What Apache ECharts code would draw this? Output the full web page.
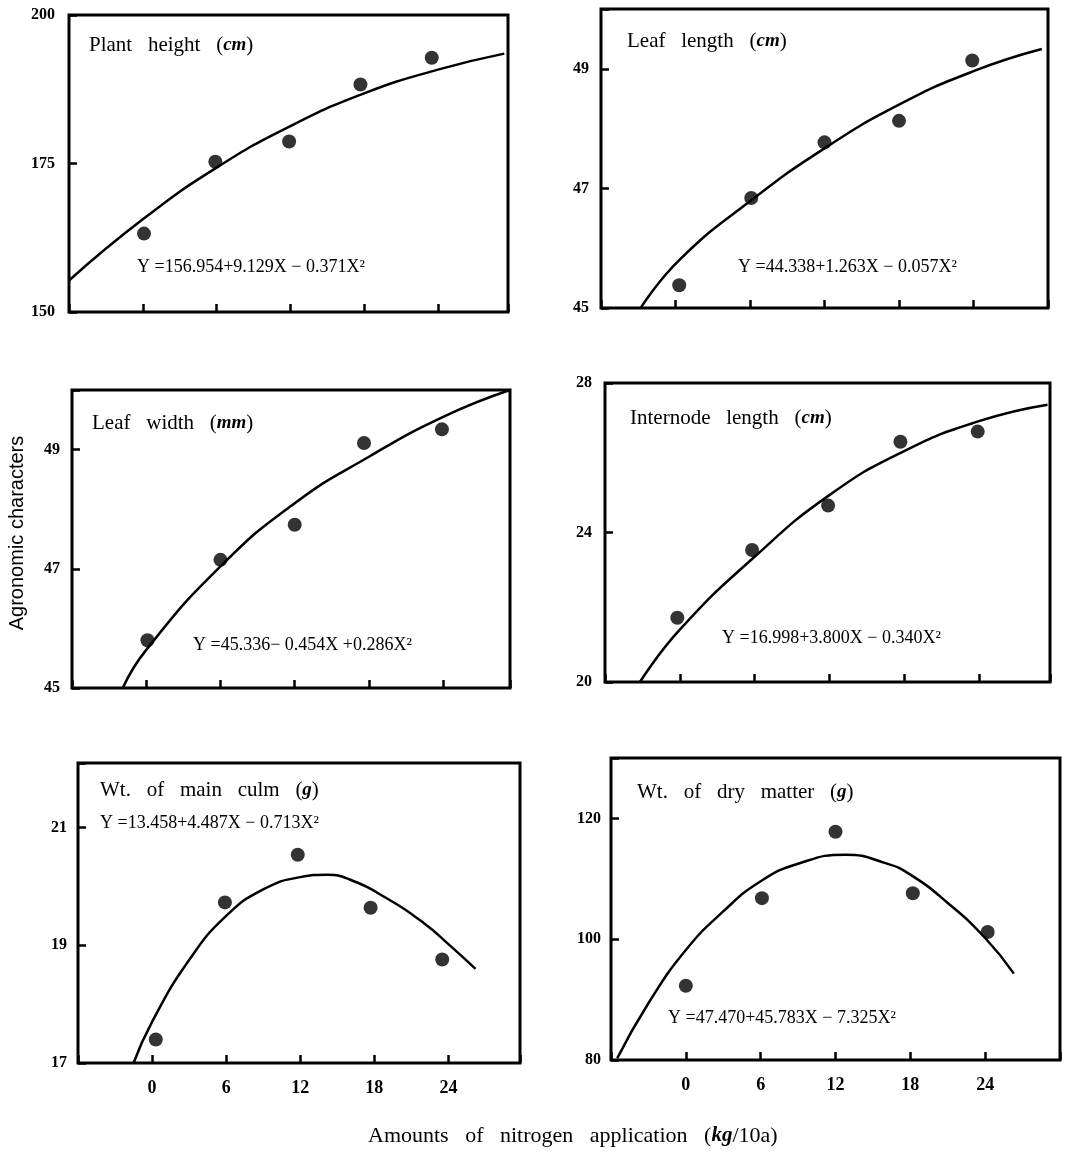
<!DOCTYPE html>
<html>
<head>
<meta charset="utf-8">
<script src="https://cdn.jsdelivr.net/npm/echarts@6/dist/echarts.min.js"></script>
<style>
  html, body { margin: 0; background: #fff; }
  #main { width: 1073px; height: 1157px; }
</style>
</head>
<body>
<div id="main"></div>
<script>
// nitrogen levels shown on the x axis (kg/10a)
var xTicks = [0, 6, 12, 18, 24];

// Plant height (cm)
var heightTicks = [150, 175, 200];
var heightDots = [[0.1, 163.2], [5.9, 175.3], [11.9, 178.7], [17.7, 188.3], [23.5, 192.8]];
var heightFit = [[-6, 155.3], [0, 165.6], [6, 174.3], [12, 181.3], [18, 186.8], [24, 190.8], [29.4, 193.5]];

// Leaf length (cm)
var lengthTicks = [45, 47, 49];
var lengthDots = [[0.3, 45.38], [6.1, 46.84], [12.0, 47.77], [18.0, 48.13], [23.9, 49.14]];
var lengthFit = [[-2.8, 45.0], [0.3, 45.8], [6.1, 46.8], [12.0, 47.67], [18.0, 48.4], [24.0, 48.96], [29.5, 49.33]];

// Leaf width (mm)
var widthTicks = [45, 47, 49];
var widthDots = [[0.1, 45.8], [6.0, 47.15], [12.0, 47.74], [17.6, 49.11], [23.9, 49.34]];
var widthFit = [[-1.9, 45.0], [0, 45.64], [6, 47.04], [12, 48.1], [18, 48.88], [24, 49.55], [29.4, 50.0]];

// Internode length (cm)
var internodeTicks = [20, 24, 28];
var internodeDots = [[-0.2, 21.72], [5.8, 23.53], [11.9, 24.72], [17.7, 26.43], [23.9, 26.7]];
var internodeFit = [[-3.2, 20.0], [0, 21.4], [6, 23.35], [12, 25.0], [18, 26.18], [24, 26.98], [29.5, 27.42]];

// Wt. of main culm (g)
var culmTicks = [17, 19, 21];
var culmDots = [[0.3, 17.4], [5.9, 19.73], [11.8, 20.54], [17.7, 19.64], [23.5, 18.76]];
var culmFit = [[-1.5, 17.0], [0, 17.7], [3, 18.75], [6, 19.5], [9, 19.95], [12, 20.16], [14.2, 20.2], [16, 20.12], [19, 19.8], [22, 19.38], [24, 19.02], [26.2, 18.6]];

// Wt. of dry matter (g)
var dryTicks = [80, 100, 120];
var dryDots = [[0, 92.3], [6.1, 106.8], [12.0, 117.8], [18.2, 107.6], [24.2, 101.2]];
var dryFit = [[-5.5, 80.3], [-3, 89.4], [0, 98.2], [3, 104.6], [6, 109.6], [9, 112.5], [12.8, 114.0], [16, 112.6], [18, 110.7], [21, 106.0], [24, 100.2], [26.3, 94.3]];

var serif = '"Liberation Serif", "DejaVu Serif", serif';

var panels = [
  { box: [69, 15, 439, 297], xMax: 29.7, y: [150, 200, 25], ticks: heightTicks, dots: heightDots, fit: heightFit, xLab: false, margin: 14,
    name: 'Plant   height   (', unit: 'cm', at: [89, 45], eq: 'Y =156.954+9.129X − 0.371X²', eqAt: [137, 267] },
  { box: [601, 9, 447, 299], xMax: 30, y: [45, 50, 2], ticks: lengthTicks, dots: lengthDots, fit: lengthFit, xLab: false, margin: 12,
    name: 'Leaf   length   (', unit: 'cm', at: [627, 41], eq: 'Y =44.338+1.263X − 0.057X²', eqAt: [738, 267] },
  { box: [72, 390, 438, 298], xMax: 29.4, y: [45, 50, 2], ticks: widthTicks, dots: widthDots, fit: widthFit, xLab: false, margin: 12,
    name: 'Leaf   width   (', unit: 'mm', at: [92, 423], eq: 'Y =45.336− 0.454X +0.286X²', eqAt: [193, 645] },
  { box: [605, 383, 445, 299], xMax: 29.7, y: [20, 28, 4], ticks: internodeTicks, dots: internodeDots, fit: internodeFit, xLab: false, margin: 13,
    name: 'Internode   length   (', unit: 'cm', at: [630, 418], eq: 'Y =16.998+3.800X − 0.340X²', eqAt: [722, 638] },
  { box: [78, 763, 442, 300], xMax: 29.8, y: [17, 22.1, 2], ticks: culmTicks, dots: culmDots, fit: culmFit, xLab: true, margin: 11,
    name: 'Wt.   of   main   culm   (', unit: 'g', at: [100, 790], eq: 'Y =13.458+4.487X − 0.713X²', eqAt: [100, 823] },
  { box: [611, 758, 449, 302], xMax: 30, y: [80, 130, 20], ticks: dryTicks, dots: dryDots, fit: dryFit, xLab: true, margin: 10,
    name: 'Wt.   of   dry   matter   (', unit: 'g', at: [637, 792], eq: 'Y =47.470+45.783X − 7.325X²', eqAt: [668, 1018] }
];

var grid = [], xAxis = [], yAxis = [], series = [], titles = [];

panels.forEach(function (p, i) {
  grid.push({
    left: p.box[0], top: p.box[1], width: p.box[2], height: p.box[3],
    show: true, borderColor: '#000', borderWidth: 3, backgroundColor: 'transparent',
    containLabel: false, outerBoundsMode: 'none'
  });
  xAxis.push({
    type: 'value', gridIndex: i, min: -6, max: p.xMax, interval: 6,
    axisLine: { show: false, onZero: false },
    axisTick: { show: true, inside: true, length: 8, lineStyle: { color: '#000', width: 2.5 } },
    splitLine: { show: false },
    axisLabel: {
      show: p.xLab, margin: 16, color: '#000', fontFamily: serif, fontSize: 18, fontWeight: 'bold',
      formatter: function (v) { return xTicks.indexOf(v) >= 0 ? String(v) : ''; }
    }
  });
  var ticks = p.ticks;
  yAxis.push({
    type: 'value', gridIndex: i, min: p.y[0], max: p.y[1], interval: p.y[2],
    axisLine: { show: false, onZero: false },
    axisTick: { show: true, inside: true, length: 8, lineStyle: { color: '#000', width: 2.5 } },
    splitLine: { show: false },
    axisLabel: {
      margin: p.margin, color: '#000', fontFamily: serif, fontSize: 16, fontWeight: 'bold',
      formatter: function (v) { return ticks.indexOf(v) >= 0 ? String(v) : ''; }
    }
  });
  series.push({
    type: 'line', xAxisIndex: i, yAxisIndex: i, data: p.fit,
    smooth: true, showSymbol: false, silent: true,
    lineStyle: { color: '#000', width: 2.5 }
  });
  series.push({
    type: 'scatter', xAxisIndex: i, yAxisIndex: i, data: p.dots,
    symbol: 'circle', symbolSize: 14, itemStyle: { color: '#000' }
  });
  titles.push({
    text: '{t|' + p.name + '}{u|' + p.unit + '}{t|)}',
    left: p.at[0], top: p.at[1] - 12, padding: 0,
    textStyle: {
      rich: {
        t: { fontFamily: serif, fontSize: 21, fontWeight: 'normal', color: '#000', lineHeight: 24 },
        u: { fontFamily: serif, fontSize: 19, fontStyle: 'italic', fontWeight: 'bold', color: '#000', lineHeight: 24 }
      }
    }
  });
  titles.push({
    text: p.eq,
    left: p.eqAt[0], top: p.eqAt[1] - 11, padding: 0,
    textStyle: { fontFamily: serif, fontSize: 18, fontWeight: 'normal', color: '#000', lineHeight: 22 }
  });
});

titles.push({
  text: '{t|Amounts   of   nitrogen   application   (}{u|kg}{t|/10a)}',
  left: 368, top: 1123, padding: 0,
  textStyle: {
    rich: {
      t: { fontFamily: serif, fontSize: 22, fontWeight: 'normal', color: '#000', lineHeight: 26 },
      u: { fontFamily: serif, fontSize: 21, fontStyle: 'italic', fontWeight: 'bold', color: '#000', lineHeight: 26 }
    }
  }
});

var chart = echarts.init(document.getElementById('main'), null, { renderer: 'canvas' });
chart.setOption({
  animation: false,
  backgroundColor: '#fff',
  title: titles,
  grid: grid,
  xAxis: xAxis,
  yAxis: yAxis,
  series: series,
  graphic: [{
    type: 'text', x: 17, y: 533, rotation: Math.PI / 2,
    style: {
      text: 'Agronomic characters', font: '20px "Liberation Sans", Arial, sans-serif', fill: '#000',
      textAlign: 'center', textVerticalAlign: 'middle', align: 'center', verticalAlign: 'middle'
    }
  }]
});
</script>
</body>
</html>
